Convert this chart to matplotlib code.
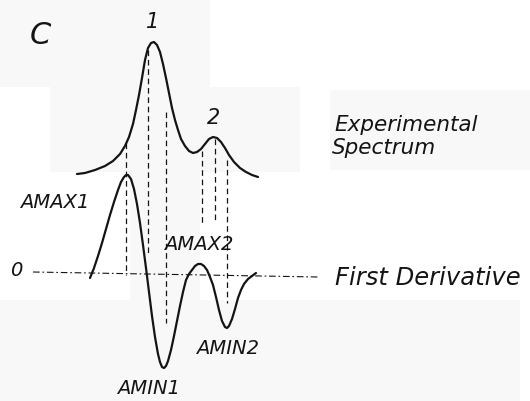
import matplotlib
matplotlib.use("Agg")
import matplotlib.pyplot as plt
import matplotlib.patches as mpatches

plt.rcParams.update({
    'font.family': ['DejaVu Sans'],
    'font.style': 'italic',
})

# Curves (picture pixel coordinates, y grows downward)
spectrum_x = [77, 85, 95, 105, 113, 120, 125, 129, 133, 136, 139, 142, 145, 148,
              151, 154, 157, 160, 163, 166, 169, 172, 175, 178, 181, 185, 189, 193,
              197, 201, 205, 209, 213, 217, 221, 225, 229, 234, 240, 246, 252, 258]
spectrum_y = [174, 173, 170, 166, 161, 154, 146, 137, 124, 110, 95, 78, 60, 48,
              43, 42, 45, 52, 64, 78, 93, 108, 120, 130, 139, 146, 151, 153,
              152, 149, 144, 139, 137, 138, 142, 148, 155, 162, 168, 172, 175, 177]

deriv_x = [90, 94, 98, 102, 106, 110, 114, 118, 121, 124, 126, 128, 131, 134,
           137, 140, 143, 146, 149, 152, 155, 158, 160, 162, 164, 166, 168, 171,
           174, 177, 180, 183, 186, 189, 192, 195, 198, 201, 204, 207, 210, 213,
           216, 219, 222, 225, 227, 229, 232, 235, 238, 241, 244, 248, 252, 256]
deriv_y = [278, 268, 256, 243, 229, 215, 202, 190, 182, 177, 175, 175, 179, 189,
           204, 223, 245, 268, 292, 316, 337, 354, 362, 367, 368, 366, 361, 350,
           336, 321, 306, 292, 280, 274, 270, 266, 264, 264, 266, 270, 277, 285,
           297, 310, 321, 327, 328, 326, 319, 309, 298, 290, 284, 279, 276, 273]

# Dashed guides: x, top, bottom
guide_x = [126, 148, 166, 202, 215, 227]
guide_top = [143, 50, 112, 151, 139, 160]
guide_bottom = [275, 256, 323, 224, 222, 303]

zero_x = [33, 318]
zero_y = [272, 277]

labels = ["C", "1", "2", "Experimental", "Spectrum", "AMAX1", "AMAX2", "0",
          "First Derivative", "AMIN2", "AMIN1"]
label_x = [30, 153, 214, 334, 332, 20, 164, 10, 335, 196, 117]
label_y = [36, 22, 118, 125, 148, 202, 245, 271, 278, 348, 388]
label_size = [22, 15, 15, 15.5, 15.5, 14, 14, 14, 17.5, 14, 14]
label_ha = ['left', 'center', 'center', 'left', 'left', 'left', 'left', 'left',
            'left', 'left', 'left']

INK = '#141414'

fig = plt.figure(figsize=(5.30, 4.01), dpi=100)
ax = fig.add_axes([0, 0, 1, 1])
ax.set_xlim(0, 530)
ax.set_ylim(401, 0)
ax.axis('off')

# faint scan blotches
for (x0, y0, w, h) in [(0, 0, 210, 87), (50, 87, 250, 85), (330, 90, 200, 80),
                       (130, 170, 70, 350), (0, 300, 520, 101)]:
    ax.add_patch(mpatches.Rectangle((x0, y0), w, h, facecolor='#f8f8f8',
                                    edgecolor='none', zorder=0))

ax.plot(spectrum_x, spectrum_y, color=INK, lw=1.6, solid_capstyle='round',
        solid_joinstyle='round', zorder=3)
ax.plot(deriv_x, deriv_y, color=INK, lw=1.6, solid_capstyle='round',
        solid_joinstyle='round', zorder=3)

for gx, gt, gb in zip(guide_x, guide_top, guide_bottom):
    ax.plot([gx, gx], [gt, gb], color=INK, lw=0.9, dashes=(4.5, 3), zorder=2)

ax.plot(zero_x, zero_y, color=INK, lw=0.8, dashes=(6, 2.5, 1.5, 2.5), zorder=2)

for t, x, y, s, ha in zip(labels, label_x, label_y, label_size, label_ha):
    ax.text(x, y, t, fontsize=s, ha=ha, va='center', color=INK,
            fontstyle='italic', zorder=4)

fig.savefig("out.png", dpi=100, facecolor='white')
